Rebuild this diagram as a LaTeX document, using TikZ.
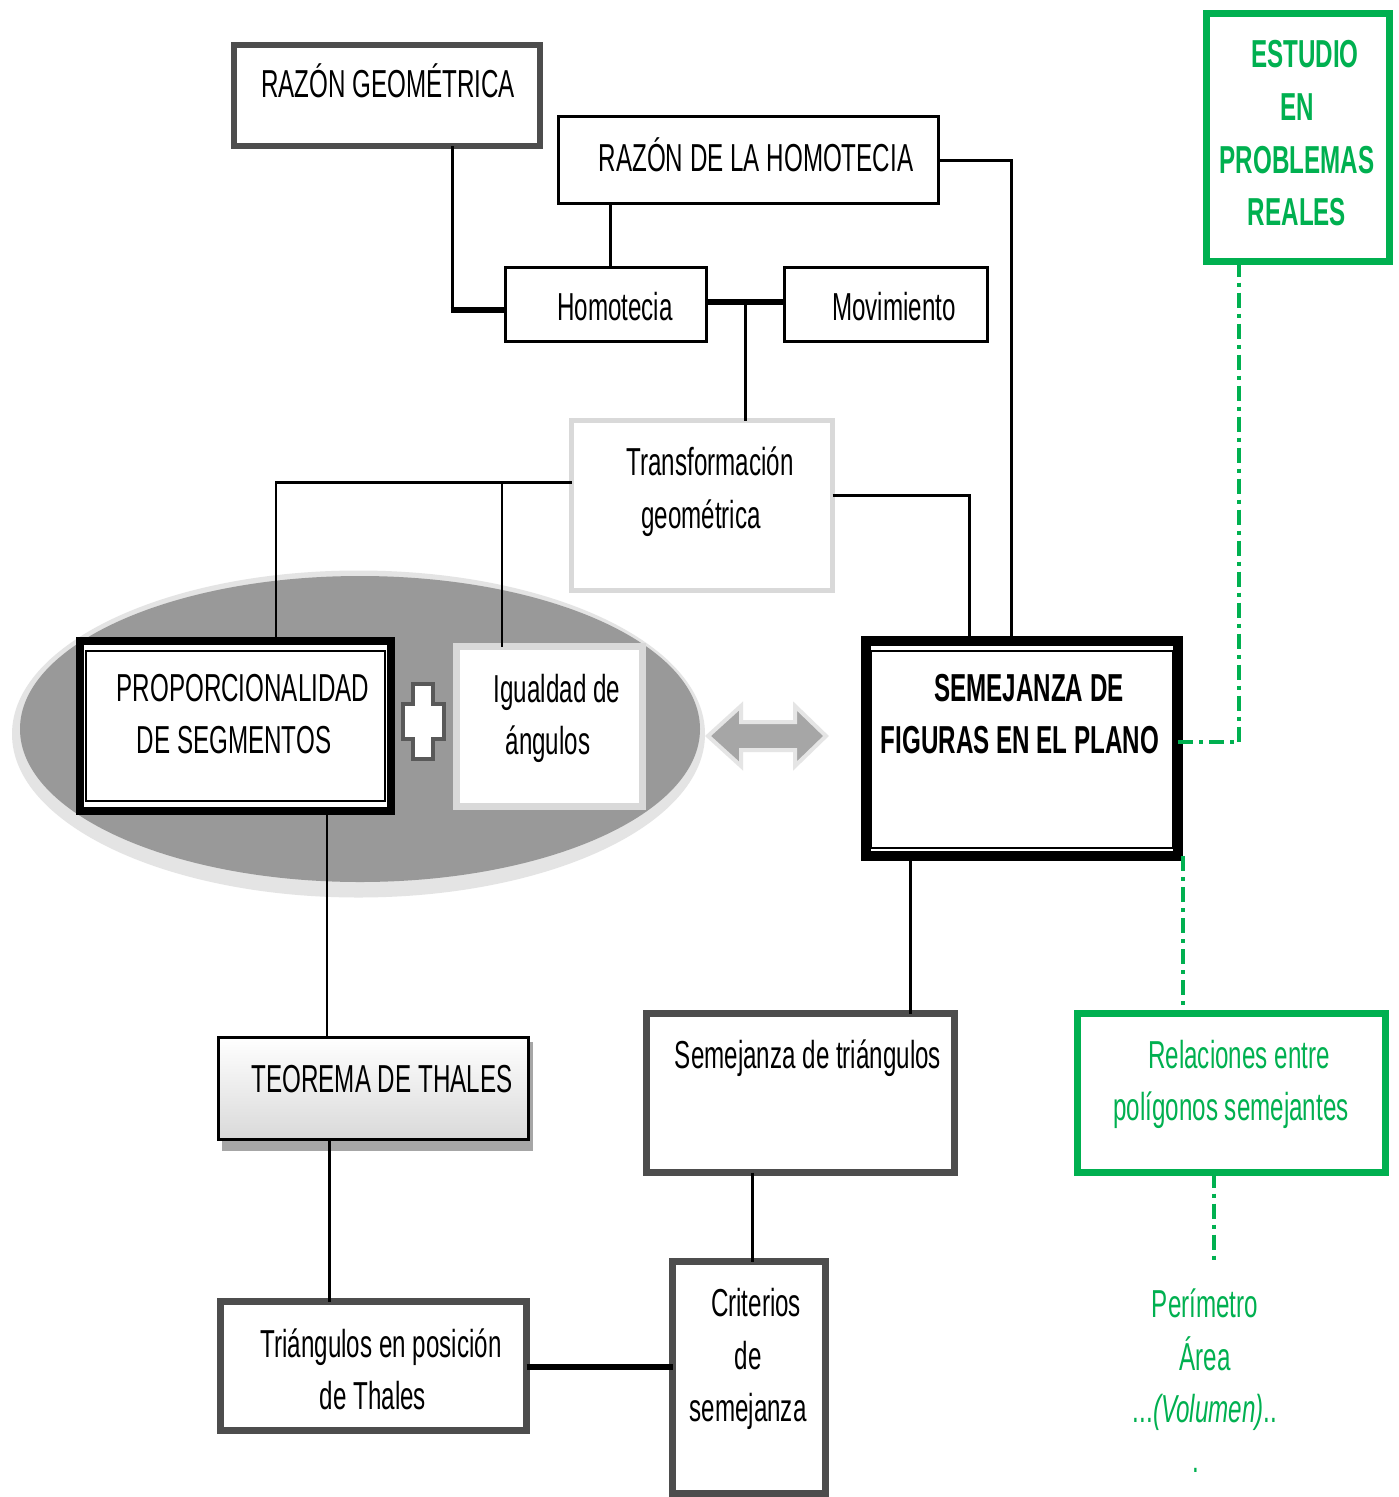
\documentclass[tikz,border=0pt]{standalone}
\usepackage{fontspec}
\setmainfont[FakeStretch=0.62]{Liberation Sans}
\definecolor{dg}{HTML}{4D4D4D}
\definecolor{gr}{HTML}{00B050}
\definecolor{lg}{HTML}{D9D9D9}
\begin{document}
\begin{tikzpicture}[x=1pt,y=-1pt,
  box/.style={draw, rectangle, fill=white, inner sep=0pt, outer sep=0pt},
  t/.style={anchor=base, inner sep=0pt, font=\fontsize{39}{47}\selectfont},
  conn/.style={line width=3pt, black},
  thickc/.style={line width=5.5pt, black},
  gconn/.style={line width=3.5pt, gr, dash pattern=on 15pt off 6pt on 4pt off 6pt}]
\useasboundingbox[fill=white] (0,0) rectangle (1399,1497);

% ellipse group
\fill[lg!70] (358.5,734) ellipse [x radius=346.5, y radius=163.5];
\fill[black!40] (360,729) ellipse [x radius=340, y radius=153];

% boxes
\node[box, line width=6pt, draw=dg, minimum width=306, minimum height=101] (rg) at (387,95.5) {};
\node[box, line width=3pt, minimum width=380, minimum height=87] (rdh) at (748.5,160) {};
\node[box, line width=3pt, minimum width=201, minimum height=74] (hom) at (606,304.5) {};
\node[box, line width=3pt, minimum width=203, minimum height=74] (mov) at (886,304.5) {};
\node[box, line width=5pt, draw=lg, minimum width=261, minimum height=170] (tg) at (702,505.5) {};

% proporcionalidad (double border)
\node[box, line width=8pt, minimum width=311, minimum height=170] (prop) at (235.5,726) {};
\draw[line width=1.5pt] (86,651) rectangle (385,801);
% plus sign
\draw[fill=white, draw=black!65, line width=4pt]
  (413,684) -- (433,684) -- (433,704) -- (444,704) -- (444,739) -- (433,739) -- (433,759)
  -- (413,759) -- (413,739) -- (403,739) -- (403,704) -- (413,704) -- cycle;
\node[box, line width=7pt, draw=lg, minimum width=186, minimum height=160] (ig) at (549.5,726.5) {};

% double arrow
\draw[fill=black!35, draw=black!10, line width=4pt, line join=miter]
  (708,736) -- (741,706) -- (741,722) -- (795,722) -- (795,706) -- (826,736)
  -- (795,766) -- (795,750) -- (741,750) -- (741,766) -- cycle;

% semejanza de figuras
\node[box, line width=10pt, minimum width=312, minimum height=215] (sem) at (1022,748.5) {};
\draw[line width=2pt] (871,651) rectangle (1173,848);

% estudio
\node[box, line width=7pt, draw=gr, minimum width=183, minimum height=248] (est) at (1298,137.5) {};

% teorema
\fill[black!35] (222,1042) rectangle (533,1151);
\node[box, line width=3pt, top color=white, bottom color=lg, minimum width=310, minimum height=102] (teo) at (373.5,1088.5) {};

\node[box, line width=7pt, draw=dg, minimum width=308, minimum height=159] (st) at (800.5,1093) {};
\node[box, line width=7pt, draw=dg, minimum width=306, minimum height=129] (tri) at (373.5,1366) {};
\node[box, line width=7pt, draw=dg, minimum width=153, minimum height=232] (crit) at (749,1377.5) {};
\node[box, line width=7pt, draw=gr, minimum width=308, minimum height=159] (rel) at (1231.5,1093) {};
\coordinate (peri) at (1214,1262);

% texts
\node[t] at (388,97) {RAZÓN GEOMÉTRICA};
\node[t] at (756,171) {RAZÓN DE LA HOMOTECIA};
\node[t] at (615,320) {Homotecia};
\node[t] at (894,320) {Movimiento};
\node[t] at (710,475) {Transformación};
\node[t] at (701,528) {geométrica};
\node[t] at (243,701) {PROPORCIONALIDAD};
\node[t] at (234,753) {DE SEGMENTOS};
\node[t] at (557,702) {Igualdad de};
\node[t] at (548,754) {ángulos};
\node[t, font=\fontsize{39}{47}\selectfont\bfseries] at (1029,701) {SEMEJANZA DE};
\node[t, font=\fontsize{39}{47}\selectfont\bfseries] at (1020,753) {FIGURAS EN EL PLANO};
\node[t, gr, font=\fontsize{39}{47}\selectfont\bfseries] at (1305,67) {ESTUDIO};
\node[t, gr, font=\fontsize{39}{47}\selectfont\bfseries] at (1297,120) {EN};
\node[t, gr, font=\fontsize{39}{47}\selectfont\bfseries] at (1297,173) {PROBLEMAS};
\node[t, gr, font=\fontsize{39}{47}\selectfont\bfseries] at (1297,225) {REALES};
\node[t] at (382,1092) {TEOREMA DE THALES};
\node[t] at (808,1068) {Semejanza de triángulos};
\node[t] at (381,1357) {Triángulos en posición};
\node[t] at (373,1409) {de Thales};
\node[t] at (756,1316) {Criterios};
\node[t] at (748,1369) {de};
\node[t] at (748,1421) {semejanza};
\node[t, gr] at (1239,1068) {Relaciones entre};
\node[t, gr] at (1231,1120) {polígonos semejantes};
\node[t, gr] at (1205,1317) {Perímetro};
\node[t, gr] at (1205,1370) {Área};
\node[t, gr] at (1205,1422) {...\textit{(Volumen)}..};
\node[t, gr] at (1196,1472) {.};

% connectors
\draw[conn] (452,0 |- rg.south) -- (452,310);
\draw[thickc] (450.5,310) -- (hom.west |- 0,310);
\draw[conn] (610,0 |- rdh.south) -- (610,0 |- hom.north);
\draw[conn] (rdh.east |- 0,160) -- (1011,160) -- (1011,0 |- sem.north);
\draw[thickc] (hom.east |- 0,302) -- (mov.west |- 0,302);
\draw[conn] (745,302) -- (745,0 |- tg.north);
\draw[line width=3pt] (tg.west |- 0,482) -- (276,482);
\draw[line width=2pt] (276,481) -- (276,0 |- prop.north);
\draw[line width=2pt] (502,481) -- (502,0 |- ig.north);
\draw[line width=3pt] (tg.east |- 0,495) -- (969,495) -- (969,0 |- sem.north);
\draw[line width=2.2pt] (327,0 |- prop.south) -- (327,0 |- teo.north);
\draw[conn] (329,0 |- teo.south) -- (329,0 |- tri.north);
\draw[conn] (910,0 |- sem.south) -- (910,0 |- st.north);
\draw[conn] (752,0 |- st.south) -- (752,0 |- crit.north);
\draw[thickc] (tri.east |- 0,1367) -- (crit.west |- 0,1367);
\draw[gconn] (1239,0 |- est.south) -- (1239,742) -- (sem.east |- 0,742);
\draw[gconn] (1183,0 |- sem.south) -- (1183,0 |- rel.north);
\draw[gconn] (1214,0 |- rel.south) -- (peri);
\end{tikzpicture}
\end{document}
